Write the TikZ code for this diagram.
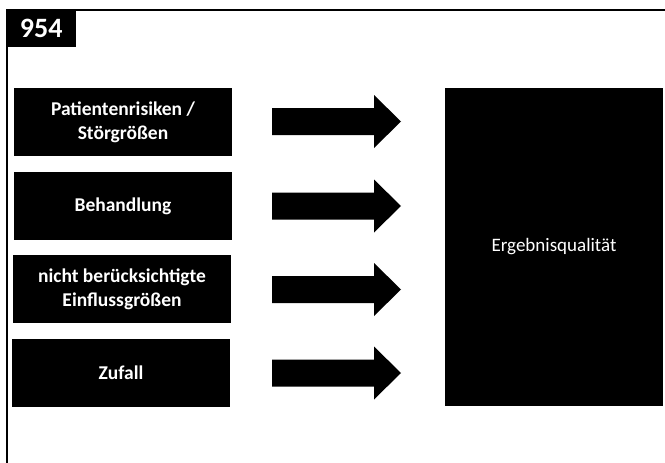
\documentclass[tikz,border=0pt]{standalone}
\usepackage{fontspec}
\setmainfont{Carlito}
\begin{document}
\begin{tikzpicture}[x=1pt,y=-1pt,
  factor/.style={fill=black, text=white, minimum width=218pt, minimum height=68pt, inner sep=0pt, align=center, font=\bfseries\fontsize{19.5}{24}\selectfont},
  result/.style={fill=black, text=white, minimum width=218pt, minimum height=318pt, inner sep=0pt, font=\fontsize{19}{23}\selectfont},
  tab/.style={fill=black, text=white, minimum width=70pt, minimum height=38pt, inner sep=0pt, font=\bfseries\fontsize{28}{32}\selectfont},
  bigarrow/.style={fill=black}
]
\useasboundingbox (0,0) rectangle (665,463);
% frame lines
\draw[line width=2pt] (7,463) -- (7,10) -- (665,10);
% tab
\node[tab, anchor=north west] (tab) at (6,9) {954};
% factor boxes
\node[factor] (f1) at (123,122) {Patientenrisiken /\\Störgrößen};
\node[factor] (f2) at (123,206) {Behandlung};
\node[factor] (f3) at (122,289) {nicht berücksichtigte\\Einflussgrößen};
\node[factor] (f4) at (121,373) {Zufall};
% result box
\node[result] (res) at (554,247) {Ergebnisqualität};
% arrows
\foreach \i/\y in {1/121.5,2/206,3/289.5,4/373}{
  \coordinate (a\i) at (272,\y);
  \fill[bigarrow] (a\i) ++(0,-13.5) -- ++(102,0) -- ++(0,-13) -- ++(27,26.5) -- ++(-27,26.5) -- ++(0,-13) -- ++(-102,0) -- cycle;
}
\end{tikzpicture}
\end{document}
